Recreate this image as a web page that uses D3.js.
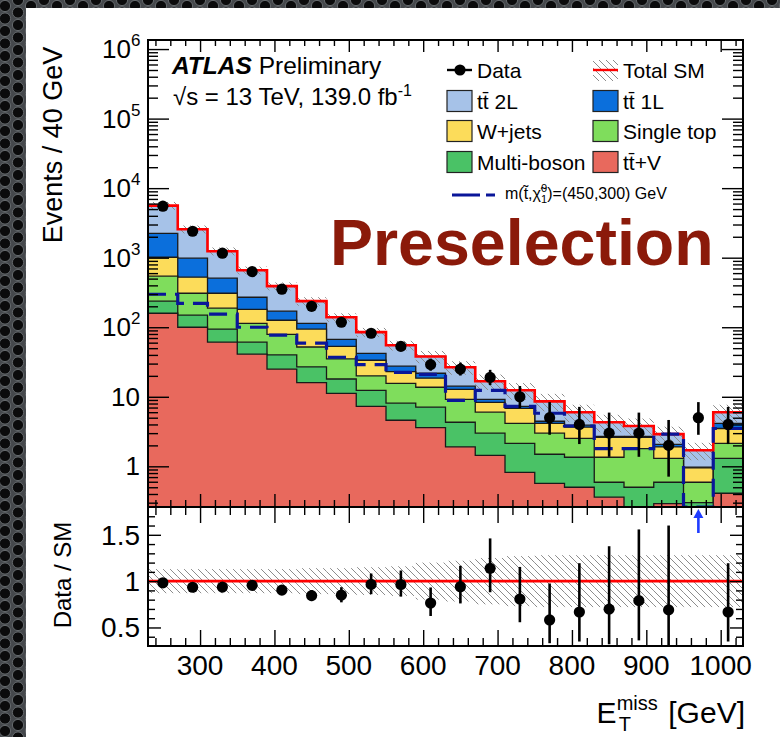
<!DOCTYPE html>
<html><head><meta charset="utf-8">
<script src="https://cdn.jsdelivr.net/npm/d3@7"></script>
<style>
html,body{margin:0;padding:0;background:#3f4245;}
svg{display:block;}
text{font-family:"Liberation Sans",Arial,Helvetica,sans-serif;fill:#000;}
</style></head><body>
<svg id="c" width="780" height="737"></svg>
<script>
// ---------------- data ----------------
const binLow = [230,270,310,350,390,430,470,510,550,590,630,670,710,750,790,830,870,910,950,990];
const binWidth = 40;
const data      = [5500,2400,1160,630,352,200,118,82,53,29,25,19,10,5,4,3,3,2,5,4];
const dataErrLo = [74,49,34,25,19,14,10.8,9,7.2,5.3,4.8,4.3,3.1,2.16,1.91,1.63,1.63,1.29,2.16,1.91];
const dataErrHi = [74,49,34,25,19,14,11.9,10,8.3,6.4,6.0,5.4,4.3,3.38,3.16,2.92,2.92,2.64,3.38,3.16];
const ttV        = [159,100,61,41,25,16,11.2,7.3,4.6,3.6,1.9,1.44,0.82,0.57,0.5,0.36,0.1,0.29,0.1,0.41];
const multiBoson = [78,49,33,20,15,11,6.8,5.1,3.5,3.5,2.4,1.56,1.32,0.92,0.85,0.23,0.4,0.3,0.2,0.89];
const singleTop  = [305,159,94,53,39,25,17,7.6,7.5,6.6,4.9,3.0,2.01,1.51,1.18,0.76,1.3,0.71,0.29,0.84];
const wjets      = [473,216,120,67,47,42,18,13.5,7.4,4.8,3.6,2.3,2.65,1.15,1.12,1.25,0.8,0.6,0.36,1.36];
const tt1L       = [1225,460,199,89,44,20,14,8.5,4.5,3.3,1.4,0.9,0.5,0.3,0.25,0.1,0.1,0.17,0.02,0.65];
const tt2L       = [3360,1586,733,390,220,123,72,43,27.5,16.2,12.4,7.5,5.1,4.15,2.1,1.6,1.1,0.83,0.73,1.85];
const signal     = [298,221,154,100,77,59,37,29,22.5,21,8.9,12.4,7.3,5.8,3.8,1.8,1.8,2.9,0.1,3.5];
const sysFrac    = [0.13,0.13,0.13,0.13,0.13,0.14,0.14,0.15,0.16,0.2,0.22,0.25,0.27,0.28,0.28,0.28,0.28,0.28,0.28,0.28];
const xTicks = [300,400,500,600,700,800,900,1000];
const yExponents = [0,1,2,3,4,5,6];
const ratioTicks = [0.5,1,1.5];

const stackNames  = ["tt+V","Multi-boson","Single top","W+jets","tt 1L","tt 2L"];
const stackColors = ["#e8695d","#4ac266","#7fdd5c","#fcdc5a","#0b6fdc","#a6c2e8"];
const stackSeries = [ttV,multiBoson,singleTop,wjets,tt1L,tt2L];

// ---------------- setup ----------------
const W=780,H=737;
const L=148,R=743,T=40,MB=507,RB=646;
const svg=d3.select("#c");
const defs=svg.append("defs");
const bg=defs.append("pattern").attr("id","metal").attr("patternUnits","userSpaceOnUse").attr("width",26).attr("height",25);
bg.append("rect").attr("width",26).attr("height",25).attr("fill","#45484c");
[[5,6],[5,18.5],[18,0],[18,12.5],[18,25],[31,6],[-8,0],[-8,12.5],[-8,25],[31,18.5],[5,-6.5],[31,-6.5]].forEach(([cx,cy])=>{
  bg.append("circle").attr("cx",cx).attr("cy",cy).attr("r",5.6).attr("fill","#0b0b0c").attr("stroke","#6a6e72").attr("stroke-width",0.9);
});
svg.append("rect").attr("width",W).attr("height",H).attr("fill","url(#metal)");
svg.append("rect").attr("x",26).attr("y",8).attr("width",W-26).attr("height",H-8).attr("fill","#fff");

const hatch=defs.append("pattern").attr("id","hatch").attr("patternUnits","userSpaceOnUse").attr("width",7).attr("height",7);
hatch.append("path").attr("d","M-1,-1 L8,8 M-1,6 L1,8 M6,-1 L8,1").attr("stroke","#8c8c8c").attr("stroke-width",1);

defs.append("clipPath").attr("id","clipMain").append("rect").attr("x",L).attr("y",T).attr("width",R-L).attr("height",MB-T);
defs.append("clipPath").attr("id","clipRatio").append("rect").attr("x",L).attr("y",MB).attr("width",R-L).attr("height",RB-MB);

const x=d3.scaleLinear().domain([230,1030]).range([L,R]);
const y=d3.scaleLog().domain([0.26,1.35e6]).range([MB,T]).clamp(true);
const yr=d3.scaleLinear().domain([0.3,1.8]).range([RB,MB]);

const n=binLow.length;
const cum=[];
let run=new Array(n).fill(0);
stackSeries.forEach(s=>{ run=run.map((v,i)=>v+s[i]); cum.push(run.slice()); });
const total=cum[cum.length-1];

function stepPoints(vals,ys){
  const pts=[];
  vals.forEach((v,i)=>{ pts.push([x(binLow[i]),ys(v)]); pts.push([x(binLow[i]+binWidth),ys(v)]); });
  return pts;
}
const line=d3.line();

const gMain=svg.append("g").attr("clip-path","url(#clipMain)");
for(let k=cum.length-1;k>=0;k--){
  const pts=stepPoints(cum[k],y);
  const closed=[[x(binLow[0]),MB],...pts,[x(binLow[n-1]+binWidth),MB]];
  gMain.append("path").attr("d",line(closed)+"Z").attr("fill",stackColors[k]).attr("stroke","#1a1a1a").attr("stroke-width",1.3);
}
gMain.selectAll("rect.band").data(total).enter().append("rect")
  .attr("x",(d,i)=>x(binLow[i])).attr("width",(d,i)=>x(binLow[i]+binWidth)-x(binLow[i]))
  .attr("y",(d,i)=>y(d*(1+sysFrac[i]))).attr("height",(d,i)=>y(d*(1-sysFrac[i]))-y(d*(1+sysFrac[i])))
  .attr("fill","url(#hatch)");
gMain.append("path").attr("d",line(stepPoints(total,y))).attr("fill","none").attr("stroke","#ff0000").attr("stroke-width",2.6);
gMain.append("path").attr("d",line(stepPoints(signal,y))).attr("fill","none").attr("stroke","#0a1699").attr("stroke-width",3.2).attr("stroke-dasharray","18,9");
const gData=gMain.append("g");
data.forEach((d,i)=>{
  const cx=x(binLow[i]+binWidth/2);
  gData.append("line").attr("x1",cx).attr("x2",cx).attr("y1",y(d+dataErrHi[i])).attr("y2",y(d-dataErrLo[i])).attr("stroke","#000").attr("stroke-width",2.6);
  gData.append("circle").attr("cx",cx).attr("cy",y(d)).attr("r",5.6).attr("fill","#000");
});

// ratio panel
const gR=svg.append("g").attr("clip-path","url(#clipRatio)");
gR.selectAll("rect.rb").data(total).enter().append("rect")
  .attr("x",(d,i)=>x(binLow[i])).attr("width",(d,i)=>x(binLow[i]+binWidth)-x(binLow[i]))
  .attr("y",(d,i)=>yr(1+sysFrac[i])).attr("height",(d,i)=>yr(1-sysFrac[i])-yr(1+sysFrac[i]))
  .attr("fill","url(#hatch)");
gR.append("line").attr("x1",L).attr("x2",R).attr("y1",yr(1)).attr("y2",yr(1)).attr("stroke","#ff0000").attr("stroke-width",2.6);
data.forEach((d,i)=>{
  const r=d/total[i], cx=x(binLow[i]+binWidth/2);
  if(r>1.8){
    gR.append("line").attr("x1",cx).attr("x2",cx).attr("y1",MB+26).attr("y2",MB+8).attr("stroke","#1f3cff").attr("stroke-width",2.6);
    gR.append("path").attr("d",`M${cx-5},${MB+11}L${cx},${MB+2}L${cx+5},${MB+11}Z`).attr("fill","#1f3cff");
    return;
  }
  gR.append("line").attr("x1",cx).attr("x2",cx).attr("y1",yr((d+dataErrHi[i])/total[i])).attr("y2",yr((d-dataErrLo[i])/total[i])).attr("stroke","#000").attr("stroke-width",2.6);
  gR.append("circle").attr("cx",cx).attr("cy",yr(r)).attr("r",5.6).attr("fill","#000");
});

// ---------------- axes / frames ----------------
function ticks(gen,scale,vals,size,tx,ty){
  svg.append("g").attr("transform",`translate(${tx},${ty})`)
    .call(d3[gen](scale).tickValues(vals).tickSizeInner(-size).tickSizeOuter(0).tickFormat(""))
    .call(g=>{g.select(".domain").remove(); g.selectAll("line").attr("stroke","#000").attr("stroke-width",1.4);});
}
const xMinor=d3.range(240,1030,20).filter(v=>v%100!==0);
const yMaj=yExponents.map(e=>Math.pow(10,e));
const yMin=[];
for(let e=-1;e<=6;e++) for(let m=2;m<=9;m++){const v=m*Math.pow(10,e); if(v>=0.26&&v<=1.35e6) yMin.push(v);}
ticks("axisLeft",y,yMaj,21,L,0); ticks("axisLeft",y,yMin,10,L,0);
ticks("axisRight",y,yMaj,21,R,0); ticks("axisRight",y,yMin,10,R,0);
ticks("axisTop",x,xTicks,12,0,T); ticks("axisTop",x,xMinor,6,0,T);
ticks("axisBottom",x,xTicks,13,0,MB); ticks("axisBottom",x,xMinor,7,0,MB);
ticks("axisTop",x,xTicks,16,0,MB); ticks("axisTop",x,xMinor,8,0,MB);
ticks("axisBottom",x,xTicks,16,0,RB); ticks("axisBottom",x,xMinor,8,0,RB);
const rMin=d3.range(0.4,1.8,0.1).map(v=>+v.toFixed(1)).filter(v=>!ratioTicks.includes(v));
ticks("axisLeft",yr,ratioTicks,13,L,0); ticks("axisLeft",yr,rMin,7,L,0);
ticks("axisRight",yr,ratioTicks,13,R,0); ticks("axisRight",yr,rMin,7,R,0);
svg.append("rect").attr("x",L).attr("y",T).attr("width",R-L).attr("height",MB-T).attr("fill","none").attr("stroke","#000").attr("stroke-width",2);
svg.append("rect").attr("x",L).attr("y",MB).attr("width",R-L).attr("height",RB-MB).attr("fill","none").attr("stroke","#000").attr("stroke-width",2);

// tick labels
yExponents.forEach(e=>{
  const t=svg.append("text").attr("x",e<2?140:131).attr("y",y(Math.pow(10,e))+9).attr("text-anchor","end").style("font-size","26px");
  t.text(e===0?"1":"10");
  if(e>=2) svg.append("text").attr("x",131).attr("y",y(Math.pow(10,e))-3).style("font-size","17px").text(e);
});
ratioTicks.forEach(v=>{
  svg.append("text").attr("x",140).attr("y",yr(v)+10).attr("text-anchor","end").style("font-size","28px").text(v);
});
xTicks.forEach(v=>{
  svg.append("text").attr("x",x(v)).attr("y",675).attr("text-anchor","middle").style("font-size","28px").text(v);
});
// axis titles
svg.append("text").attr("transform","translate(62,145) rotate(-90)").attr("text-anchor","middle").style("font-size","27px").text("Events / 40 GeV");
svg.append("text").attr("transform","translate(71,575) rotate(-90)").attr("text-anchor","middle").style("font-size","24px").text("Data / SM");
const xt=svg.append("text").attr("x",745).attr("y",723).attr("text-anchor","end").style("font-size","30px");
xt.append("tspan").text("E");
xt.append("tspan").attr("dy",-13).style("font-size","20px").text("miss");
xt.append("tspan").attr("dx",-39).attr("dy",21).style("font-size","20px").text("T");
xt.append("tspan").attr("dx",29).attr("dy",-8).text(" [GeV]");

// ATLAS label
const a1=svg.append("text").attr("x",172).attr("y",74).style("font-size","24.5px");
a1.append("tspan").style("font-weight","bold").style("font-style","italic").text("ATLAS");
a1.append("tspan").text(" Preliminary");
const a2=svg.append("text").attr("x",173).attr("y",105).style("font-size","24px");
a2.append("tspan").text("\u221As = 13 TeV, 139.0 fb");
a2.append("tspan").attr("dy",-9).style("font-size","16px").text("-1");

svg.append("text").attr("x",330).attr("y",265).style("font-size","64.5px").style("font-weight","bold").style("fill","#8b1a0a").text("Preselection");

// legend
const leg=svg.append("g").style("font-size","21px");
const rowY=[70,101,131,162];
leg.append("line").attr("x1",447).attr("x2",472).attr("y1",rowY[0]).attr("y2",rowY[0]).attr("stroke","#000").attr("stroke-width",2.4);
leg.append("circle").attr("cx",460).attr("cy",rowY[0]).attr("r",5.6).attr("fill","#000");
leg.append("text").attr("x",477).attr("y",rowY[0]+8).text("Data");
leg.append("rect").attr("x",593).attr("y",rowY[0]-10).attr("width",25).attr("height",21).attr("fill","url(#hatch)");
leg.append("line").attr("x1",593).attr("x2",618).attr("y1",rowY[0]).attr("y2",rowY[0]).attr("stroke","#ff0000").attr("stroke-width",2.4);
leg.append("text").attr("x",623).attr("y",rowY[0]+8).text("Total SM");
const legEntries=[[5,"tt\u0304 2L",0,1],[4,"tt\u0304 1L",1,1],[3,"W+jets",0,2],[2,"Single top",1,2],[1,"Multi-boson",0,3],[0,"tt\u0304+V",1,3]];
legEntries.forEach(([k,label,col,row])=>{
  const bx=col?593:447;
  leg.append("rect").attr("x",bx).attr("y",rowY[row]-10.5).attr("width",25).attr("height",21).attr("fill",stackColors[k]).attr("stroke","#222").attr("stroke-width",1.2);
  leg.append("text").attr("x",bx+30).attr("y",rowY[row]+8).text(label);
});
leg.append("line").attr("x1",452).attr("x2",495).attr("y1",195).attr("y2",195).attr("stroke","#0a1699").attr("stroke-width",3.2).attr("stroke-dasharray","28,6");
const st=leg.append("text").attr("x",505).attr("y",199).style("font-size","16px");
st.append("tspan").text("m(t\u0303,\u03C7\u0303");
st.append("tspan").attr("dy",4).style("font-size","11px").text("1");
st.append("tspan").attr("dx",-6).attr("dy",-11).style("font-size","11px").text("0");
st.append("tspan").attr("dy",7).text(")=(450,300) GeV");
</script>
</body></html>
